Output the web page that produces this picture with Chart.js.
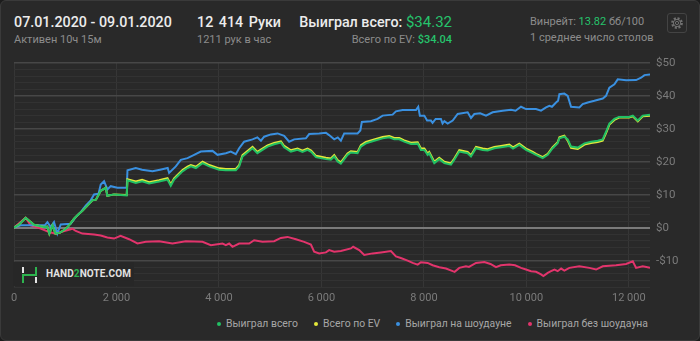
<!DOCTYPE html>
<html lang="ru">
<head>
<meta charset="utf-8">
<title>Результаты сессии</title>
<script src="https://cdn.jsdelivr.net/npm/chart.js@4"></script>
<style>
    html, body {
        margin: 0;
        padding: 0;
        background: #1c1c1c;
    }
    .panel {
        position: relative;
        width: 698px;
        height: 339px;
        background: #292929;
        border: 1px solid #3a3a3a;
        border-radius: 6px;
        overflow: hidden;
        font-family: Roboto, "Noto Sans", sans-serif;
    }
    .txt {
        position: absolute;
        white-space: nowrap;
        line-height: normal;
    }
    .big {
        font-size: 14.3px;
        font-weight: 500;
        color: #ececec;
    }
    .small {
        font-size: 11px;
        color: #8c8c8c;
    }
    .mid {
        font-size: 11px;
        color: #8c8c8c;
    }
    .green {
        color: #26c36c;
    }
    .gear {
        position: absolute;
        left: 666px;
        top: 12px;
        width: 20px;
        height: 20px;
        border: 1px solid #444;
        border-radius: 3px;
        box-sizing: border-box;
    }
    #chart {
        position: absolute;
        left: 0;
        top: 49px;
    }
    .watermark {
        position: absolute;
        left: 12px;
        top: 261px;
        width: 121px;
        height: 24px;
        background: #272727;
    }
    .watermark svg {
        position: absolute;
        left: 8px;
        top: 4px;
    }
    .watermark span {
        position: absolute;
        left: 33px;
        top: 6px;
        font-size: 10px;
        font-weight: 700;
        color: #e2e2e2;
        letter-spacing: 0.1px;
    }
    .legend {
        position: absolute;
        right: 51px;
        top: 316px;
        display: flex;
        font-size: 10.4px;
        color: #a6a6a6;
    }
    .legend .item {
        display: flex;
        align-items: center;
        margin-left: 16px;
    }
    .legend .dot {
        width: 4px;
        height: 4px;
        border-radius: 50%;
        margin-right: 5px;
    }
</style>
</head>
<body>
<div class="panel">
    <div class="txt big" style="left:13px; top:13px;">07.01.2020 - 09.01.2020</div>
    <div class="txt small" style="left:13px; top:32px;">Активен 10ч 15м</div>

    <div class="txt big" style="left:196px; top:13px; word-spacing:2px;">12 414 Руки</div>
    <div class="txt small" style="left:196px; top:32px;">1211 рук в час</div>

    <div class="txt big" style="right:247px; top:12px;">Выиграл всего: <span class="green" style="font-weight:400; font-size:15px;">$34.32</span></div>
    <div class="txt small" style="right:247px; top:32px;">Всего по EV: <span class="green" style="font-weight:500;">$34.04</span></div>

    <div class="txt mid" style="left:529px; top:14px;">Винрейт: <span class="green">13.82</span> бб/100</div>
    <div class="txt mid" style="left:529px; top:30px;">1 среднее число столов</div>

    <div class="gear">
        <svg width="18" height="18" viewBox="0 0 18 18" style="position:absolute;left:0;top:0;">
            <circle cx="9" cy="9" r="4.6" fill="none" stroke="#707070" stroke-width="2.6" stroke-dasharray="2 1.6"></circle>
            <circle cx="9" cy="9" r="3.6" fill="none" stroke="#707070" stroke-width="1"></circle>
            <circle cx="9" cy="9" r="1.6" fill="none" stroke="#707070" stroke-width="1"></circle>
        </svg>
    </div>

    <canvas id="chart" width="700" height="262"></canvas>

    <div class="watermark">
        <svg width="17" height="17" viewBox="0 0 17 17">
            <rect x="1" y="1" width="2" height="6" fill="#e6e6e6"></rect>
            <rect x="14" y="11" width="2" height="6" fill="#e6e6e6"></rect>
            <polyline points="2,17 2,9 15,9 15,1" fill="none" stroke="#2eb34f" stroke-width="2"></polyline>
        </svg>
        <span>HAND<span style="position:static;color:#2eb34f;font-size:10px;">2</span>NOTE.COM</span>
    </div>

    <div class="legend" id="legend"></div>
</div>

<script>
// Названия серий
const seriesNames = ['Выиграл всего', 'Всего по EV', 'Выиграл на шоудауне', 'Выиграл без шоудауна'];
const seriesColors = ['#22c064', '#e4e83a', '#3a90e0', '#e2346c'];

// Выиграл всего и по EV (раздачи / $)
const handsTotal = [0, 100, 228, 390, 586, 650, 690, 750, 810, 900, 1000, 1074, 1172, 1270, 1335, 1433, 1530, 1600, 1693, 1790, 1823, 1953, 2200, 2215, 2377, 2500, 2637, 2833, 2996, 3060, 3125, 3191, 3289, 3387, 3452, 3550, 3680, 3810, 4004, 4135, 4330, 4395, 4460, 4656, 4750, 4850, 4950, 5078, 5210, 5273, 5404, 5534, 5630, 5729, 5800, 5893, 6088, 6185, 6250, 6316, 6380, 6510, 6576, 6706, 6771, 6869, 7031, 7195, 7324, 7422, 7520, 7617, 7748, 7879, 7943, 8010, 8074, 8105, 8203, 8300, 8400, 8529, 8594, 8692, 8854, 8920, 9018, 9148, 9246, 9375, 9506, 9668, 9740, 9863, 9994, 10125, 10189, 10320, 10418, 10514, 10612, 10645, 10742, 10808, 10873, 11004, 11134, 11264, 11395, 11490, 11556, 11621, 11719, 11810, 12005, 12078, 12176, 12273, 12414];
const wonTotal = [0, 1.0, 3.0, 0.9, 0.2, 0.3, -1.8, 0.7, -1.8, -1.5, -0.5, 0.7, 2.7, 4.2, 5.1, 6.7, 8.3, 8.5, 11.2, 12.1, 9.7, 10.1, 9.8, 14.4, 13.6, 14.1, 13.4, 14.0, 14.6, 12.7, 14.6, 15.6, 17.1, 18.1, 18.6, 18.1, 19.6, 18.6, 17.6, 17.4, 17.4, 18.6, 21.6, 24.1, 22.6, 23.6, 24.6, 25.3, 25.8, 24.4, 23.1, 23.6, 23.0, 23.6, 23.0, 21.4, 20.8, 20.6, 21.6, 20.1, 19.4, 22.1, 22.8, 22.6, 24.6, 25.6, 26.4, 27.1, 27.4, 26.8, 26.8, 26.1, 25.4, 25.5, 23.6, 23.6, 22.1, 22.6, 19.6, 20.8, 19.6, 19.1, 20.6, 23.1, 22.6, 21.6, 24.1, 23.6, 23.4, 24.1, 24.4, 24.8, 24.0, 25.1, 23.6, 22.6, 22.1, 21.1, 22.1, 24.1, 25.6, 27.1, 27.6, 26.8, 24.6, 24.3, 25.6, 26.1, 26.4, 26.8, 29.1, 31.6, 33.0, 33.6, 33.6, 34.0, 32.5, 34.0, 34.3];
const wonEv = [0, 1.0, 3.0, 0.9, 0.2, 0.3, -1.8, 0.7, -1.8, -1.5, -0.5, 0.7, 2.7, 4.2, 5.1, 6.7, 8.3, 8.5, 11.2, 12.1, 9.7, 10.1, 9.9, 14.7, 14.0, 14.5, 13.8, 14.4, 15.0, 13.1, 15.0, 16.0, 17.5, 18.5, 19.0, 18.5, 20.0, 19.0, 18.0, 17.8, 17.8, 19.0, 22.0, 24.5, 23.0, 24.0, 25.0, 25.7, 26.2, 24.8, 23.5, 24.0, 23.4, 24.0, 23.4, 21.8, 21.2, 21.0, 22.0, 20.5, 19.8, 22.5, 23.2, 23.0, 25.0, 26.0, 26.8, 27.5, 27.8, 27.2, 27.2, 26.5, 25.8, 25.9, 24.0, 24.0, 22.5, 23.0, 20.0, 21.2, 20.0, 19.5, 21.0, 23.5, 23.0, 22.0, 24.5, 24.0, 23.8, 24.5, 24.8, 25.2, 24.4, 25.5, 24.0, 23.0, 22.4, 21.4, 22.4, 24.4, 25.9, 27.4, 27.9, 26.4, 24.2, 23.9, 25.2, 25.7, 26.0, 26.4, 28.7, 31.3, 32.7, 33.4, 33.4, 33.8, 32.3, 33.8, 34.0];

// Выиграл на шоудауне
const handsSd = [0, 130, 600, 652, 716, 781, 846, 912, 1107, 1205, 1302, 1400, 1497, 1563, 1650, 1693, 1758, 1823, 1888, 2018, 2200, 2215, 2377, 2500, 2703, 2850, 3000, 3028, 3158, 3256, 3387, 3516, 3646, 3875, 3973, 4135, 4232, 4330, 4395, 4492, 4656, 4750, 4820, 4883, 5014, 5144, 5273, 5371, 5469, 5697, 5762, 5957, 6088, 6150, 6250, 6320, 6380, 6445, 6706, 6760, 6790, 6966, 7097, 7195, 7390, 7455, 7585, 7846, 7890, 7922, 8009, 8063, 8138, 8170, 8230, 8333, 8365, 8400, 8465, 8563, 8660, 8855, 8920, 8985, 9100, 9213, 9343, 9539, 9700, 9790, 9896, 9994, 10189, 10287, 10385, 10450, 10500, 10580, 10620, 10645, 10742, 10808, 10873, 11035, 11100, 11199, 11328, 11492, 11556, 11621, 11719, 11784, 11947, 12142, 12240, 12305, 12414];
const wonSd = [0, 0.7, 0.7, 1.7, 0.2, 1.7, -1.8, 1.0, 1.2, 3.2, 4.7, 6.7, 8.3, 10.1, 10.3, 13.1, 14.1, 11.6, 12.6, 12.1, 12.1, 17.4, 18.1, 17.6, 17.1, 17.6, 18.1, 16.6, 18.6, 20.6, 21.1, 22.1, 23.1, 23.3, 22.1, 22.6, 23.1, 22.3, 24.1, 26.1, 26.8, 27.4, 26.4, 27.6, 28.3, 28.6, 27.9, 26.1, 26.8, 27.1, 28.4, 28.6, 28.8, 28.1, 26.8, 27.4, 26.4, 28.6, 28.6, 29.5, 32.1, 32.3, 33.0, 34.0, 34.3, 35.3, 35.7, 35.7, 36.7, 34.0, 34.0, 32.5, 32.5, 31.8, 33.0, 33.0, 31.6, 32.3, 31.6, 32.5, 34.5, 35.0, 33.3, 34.5, 34.7, 34.0, 35.0, 35.5, 35.8, 35.5, 36.7, 36.0, 36.0, 35.5, 36.5, 37.0, 36.7, 38.0, 38.5, 40.5, 40.7, 40.0, 36.7, 36.5, 37.5, 38.0, 38.5, 39.2, 40.0, 42.5, 43.5, 45.0, 44.7, 44.8, 45.5, 46.3, 46.5];

// Выиграл без шоудауна
const handsNsd = [0, 228, 325, 521, 684, 814, 912, 1107, 1140, 1205, 1335, 1563, 1693, 1823, 1953, 2080, 2246, 2410, 2572, 2832, 3093, 3353, 3680, 3842, 4070, 4135, 4200, 4265, 4395, 4590, 4687, 4850, 5078, 5209, 5339, 5502, 5664, 5795, 5859, 5957, 6088, 6152, 6250, 6380, 6576, 6620, 6738, 6836, 7000, 7162, 7357, 7455, 7550, 7683, 7781, 7879, 7943, 8074, 8171, 8301, 8432, 8563, 8600, 8692, 8822, 8880, 9018, 9180, 9300, 9408, 9500, 9668, 9780, 9896, 9994, 10092, 10189, 10287, 10333, 10418, 10482, 10550, 10612, 10680, 10742, 10840, 11035, 11230, 11361, 11492, 11752, 11947, 12078, 12142, 12273, 12414];
const wonNsd = [0, 3.0, 0.7, -0.3, -1.3, -1.8, -1.3, -0.5, -0.3, -1.0, -1.8, -2.1, -2.4, -3.0, -3.3, -2.5, -3.5, -4.8, -4.3, -4.1, -4.8, -4.1, -4.3, -5.3, -4.8, -5.3, -4.8, -5.8, -4.8, -4.8, -3.8, -4.3, -4.1, -3.1, -2.8, -3.5, -4.3, -5.1, -7.3, -7.8, -7.5, -6.8, -7.3, -7.1, -6.3, -5.8, -6.8, -8.3, -7.8, -7.5, -7.1, -8.7, -9.2, -10.0, -10.7, -11.2, -10.5, -10.7, -11.4, -12.0, -12.4, -13.2, -13.4, -12.2, -11.7, -11.9, -10.7, -10.4, -11.0, -12.0, -11.4, -11.2, -11.4, -12.2, -12.7, -13.2, -13.4, -14.2, -14.7, -13.7, -13.2, -12.7, -13.2, -12.4, -13.0, -12.2, -11.7, -12.2, -12.7, -11.7, -11.4, -11.0, -10.2, -12.2, -11.7, -12.2];

// Деления осей
const handsTicks = [0, 2000, 4000, 6000, 8000, 10000, 12000];
const handsMax = 12414;
const yMin = -18;
const yMax = 50;

document.addEventListener('DOMContentLoaded', function() {
    buildLegend();
    initializeChart();
});

// Склеиваем x и y в точки
function toPoints(xs, ys) {
    return xs.map((x, i) => ({ x: x, y: ys[i] }));
}

// Формат "12 000"
function formatHands(value) {
    return String(value).replace(/\B(?=(\d{3})+(?!\d))/g, ' ');
}

// Формат "$10" / "-$10"
function formatMoney(value) {
    if (value % 10 !== 0) return '';
    return value < 0 ? '-$' + Math.abs(value) : '$' + value;
}

function buildLegend() {
    const legend = document.getElementById('legend');
    seriesNames.forEach((name, index) => {
        const item = document.createElement('div');
        item.className = 'item';
        item.innerHTML = `<span class="dot" style="background:${seriesColors[index]}"></span>${name}`;
        legend.appendChild(item);
    });
}

function initializeChart() {
    const series = [
        toPoints(handsTotal, wonTotal),
        toPoints(handsTotal, wonEv),
        toPoints(handsSd, wonSd),
        toPoints(handsNsd, wonNsd)
    ];

    const datasets = series.map((data, index) => ({
        label: seriesNames[index],
        data: data,
        borderColor: seriesColors[index],
        borderWidth: 2,
        pointRadius: 0,
        tension: 0,
        fill: false,
        order: index + 1
    }));

    const ctx = document.getElementById('chart').getContext('2d');
    new Chart(ctx, {
        type: 'line',
        data: { datasets: datasets },
        options: {
            responsive: false,
            animation: false,
            devicePixelRatio: 1,
            layout: {
                padding: { left: 13, top: 6, right: 0, bottom: 0 }
            },
            plugins: {
                legend: { display: false },
                tooltip: { enabled: false }
            },
            scales: {
                x: {
                    type: 'linear',
                    min: 0,
                    max: handsMax,
                    border: { display: false },
                    grid: {
                        color: '#363636',
                        drawTicks: false
                    },
                    ticks: {
                        color: '#7b7b7b',
                        padding: 5,
                        font: { family: 'Roboto', size: 11 },
                        callback: value => formatHands(value)
                    },
                    afterBuildTicks: scale => {
                        scale.ticks = handsTicks.map(v => ({ value: v }));
                    },
                    afterFit: scale => { scale.height = 25; }
                },
                y: {
                    position: 'right',
                    min: yMin,
                    max: yMax,
                    border: { display: false },
                    grid: {
                        drawTicks: false,
                        color: c => c.tick.value === 0 ? '#7a7a7a' : (c.tick.value % 10 === 0 ? '#474747' : '#323232'),
                        lineWidth: c => c.tick.value === 0 ? 2 : (c.tick.value % 10 === 0 ? 1.5 : 1)
                    },
                    ticks: {
                        stepSize: 2,
                        autoSkip: false,
                        color: '#7b7b7b',
                        padding: 6,
                        font: { family: 'Roboto', size: 11.5 },
                        callback: value => formatMoney(value)
                    },
                    afterFit: scale => { scale.width = 51; }
                }
            }
        }
    });
}
</script>
</body>
</html>
